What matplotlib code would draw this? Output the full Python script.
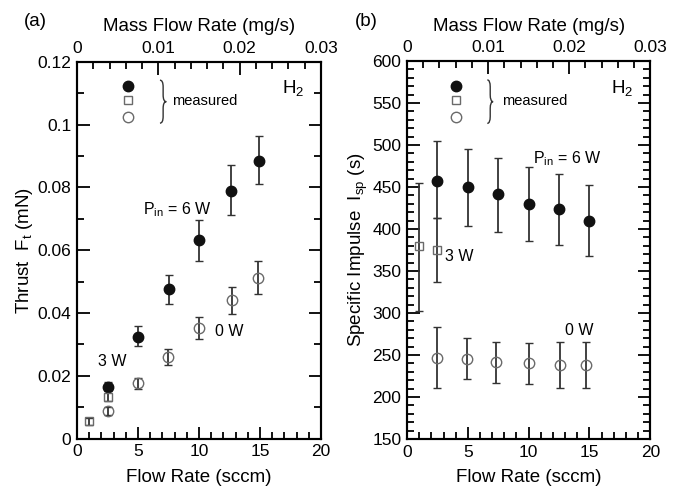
import matplotlib
matplotlib.use("Agg")
from matplotlib import pyplot
from matplotlib.path import Path
from matplotlib.patches import PathPatch
from matplotlib.ticker import MultipleLocator, FuncFormatter

pyplot.rcParams["font.family"] = ["Liberation Sans", "DejaVu Sans"]
pyplot.rcParams["mathtext.default"] = "regular"

# ---- (a) thrust vs flow rate ----
flow_6w_a = [2.5, 5, 7.5, 10, 12.6, 14.9]
thrust_6w = [0.0166, 0.0325, 0.0475, 0.0632, 0.0789, 0.0885]
thrust_6w_lo = [0.0155, 0.0295, 0.0430, 0.0566, 0.0713, 0.0810]
thrust_6w_hi = [0.0180, 0.0360, 0.0522, 0.0696, 0.0870, 0.0962]

flow_3w = [1.0, 2.5]
thrust_3w = [0.0056, 0.0134]
thrust_3w_lo = [0.0044, 0.0119]
thrust_3w_hi = [0.0066, 0.0151]

flow_0w_a = [2.5, 5, 7.45, 10, 12.7, 14.8]
thrust_0w = [0.0088, 0.0176, 0.0260, 0.0351, 0.0441, 0.0512]
thrust_0w_lo = [0.0077, 0.0158, 0.0234, 0.0317, 0.0396, 0.0462]
thrust_0w_hi = [0.0101, 0.0192, 0.0287, 0.0386, 0.0484, 0.0565]

# ---- (b) specific impulse vs flow rate ----
flow_6w_b = [2.5, 5, 7.5, 10, 12.5, 15]
isp_6w = [457, 450, 442, 430, 424, 410]
isp_6w_lo = [413, 403, 397, 386, 381, 368]
isp_6w_hi = [505, 495, 485, 474, 465, 452]

isp_3w = [380, 375]
isp_3w_lo = [302, 337]
isp_3w_hi = [455, 413]

flow_0w_b = [2.45, 4.9, 7.3, 10, 12.6, 14.7]
isp_0w = [246, 245, 242, 240, 238, 238]
isp_0w_lo = [211, 221, 217, 215, 211, 211]
isp_0w_hi = [283, 270, 266, 264, 266, 266]

BLACK = "#111111"
GREY = "#6a6a6a"
BAR = "#333333"
TICK_SIZE = 12.5

number = FuncFormatter(lambda v, p: "{:g}".format(round(v, 6)))


def err(vals, lo, hi):
    return [[v - l for v, l in zip(vals, lo)], [h - v for v, h in zip(vals, hi)]]


def brace(axis, x0, x1, y0, y1, d=0.018):
    # thin curly brace pointing right, axes fraction coords
    ym = (y0 + y1) / 2
    xm = (x0 + x1) / 2
    verts = [
        (x0, y1), (xm, y1), (xm, y1 - d),
        (xm, ym + d), (xm, ym), (x1, ym),
        (xm, ym), (xm, ym - d),
        (xm, y0 + d), (xm, y0), (x0, y0),
    ]
    codes = [Path.MOVETO, Path.CURVE3, Path.CURVE3,
             Path.LINETO, Path.CURVE3, Path.CURVE3,
             Path.CURVE3, Path.CURVE3,
             Path.LINETO, Path.CURVE3, Path.CURVE3]
    axis.add_patch(PathPatch(Path(verts, codes), transform=axis.transAxes,
                             fill=False, lw=1.0, edgecolor=BAR))


def style(axis, ymaj, ymin):
    axis.xaxis.set_major_locator(MultipleLocator(5))
    axis.xaxis.set_minor_locator(MultipleLocator(1))
    axis.yaxis.set_major_locator(MultipleLocator(ymaj))
    axis.yaxis.set_minor_locator(MultipleLocator(ymin))
    axis.yaxis.set_major_formatter(number)
    axis.tick_params(which="both", direction="in", top=False, right=True,
                     labelsize=TICK_SIZE, width=1.3)
    axis.tick_params(which="major", length=9, pad=4)
    axis.tick_params(which="minor", length=5)
    for s in axis.spines.values():
        s.set_linewidth(1.5)
    axis.set_xlim(0, 20)
    axis.set_xlabel("Flow Rate (sccm)", fontsize=13.5, labelpad=7)
    top = axis.twiny()
    top.set_xlim(0, 0.03)
    top.xaxis.set_major_locator(MultipleLocator(0.01))
    top.xaxis.set_minor_locator(MultipleLocator(0.002))
    top.xaxis.set_major_formatter(number)
    top.tick_params(which="both", direction="in", labelsize=TICK_SIZE, width=1.3)
    top.tick_params(which="major", length=9, pad=4)
    top.tick_params(which="minor", length=5)
    top.set_xlabel("Mass Flow Rate (mg/s)", fontsize=13.5, labelpad=7)
    for s in top.spines.values():
        s.set_linewidth(1.5)


def points(axis, x, y, lo, hi, marker, ms, face, edge):
    axis.errorbar(x, y, yerr=err(y, lo, hi), fmt=marker, ms=ms, mfc=face, mec=edge,
                  mew=1.0, ecolor=BAR, elinewidth=1.3, capsize=3.2, capthick=1.3, zorder=3)


figure = pyplot.figure(figsize=(6.82, 4.92), dpi=100)
figure.set_facecolor("white")

# panel (a)
ax1 = figure.add_axes([0.1129, 0.1083, 0.3578, 0.7663])
points(ax1, flow_6w_a, thrust_6w, thrust_6w_lo, thrust_6w_hi, "o", 7.5, BLACK, BLACK)
points(ax1, flow_3w, thrust_3w, thrust_3w_lo, thrust_3w_hi, "s", 5.5, "none", GREY)
points(ax1, flow_0w_a, thrust_0w, thrust_0w_lo, thrust_0w_hi, "o", 7.5, "none", GREY)
ax1.set_ylim(0, 0.12)
ax1.set_ylabel("Thrust  F$_t$ (mN)", fontsize=13.5, labelpad=1.5)
ax1.plot([4.15], [0.1123], "o", ms=7.5, color=BLACK)
ax1.plot([4.15], [0.1078], "s", ms=5.5, mfc="none", mec=GREY, mew=1.0)
ax1.plot([4.15], [0.1024], "o", ms=7.5, mfc="none", mec=GREY, mew=1.0)
brace(ax1, 0.340, 0.366, 0.837, 0.951)
ax1.text(7.8, 0.1075, "measured", fontsize=10.5, va="center", ha="left")
ax1.text(17.7, 0.1115, "H$_2$", fontsize=13.5, ha="center", va="center")
ax1.text(5.4, 0.0728, "P$_{in}$ = 6 W", fontsize=11.5, ha="left", va="center")
ax1.text(2.85, 0.0245, "3 W", fontsize=11.5, ha="center", va="center")
ax1.text(12.5, 0.034, "0 W", fontsize=11.5, ha="center", va="center")
style(ax1, 0.02, 0.01)

# panel (b)
ax2 = figure.add_axes([0.5968, 0.1077, 0.3567, 0.7683])
points(ax2, flow_6w_b, isp_6w, isp_6w_lo, isp_6w_hi, "o", 7.5, BLACK, BLACK)
points(ax2, flow_3w, isp_3w, isp_3w_lo, isp_3w_hi, "s", 5.5, "none", GREY)
points(ax2, flow_0w_b, isp_0w, isp_0w_lo, isp_0w_hi, "o", 7.5, "none", GREY)
ax2.set_ylim(150, 600)
ax2.set_ylabel("Specific Impulse  I$_{sp}$ (s)", fontsize=13.5, labelpad=2)
ax2.plot([4.0], [570.5], "o", ms=7.5, color=BLACK)
ax2.plot([4.0], [553.5], "s", ms=5.5, mfc="none", mec=GREY, mew=1.0)
ax2.plot([4.0], [533.0], "o", ms=7.5, mfc="none", mec=GREY, mew=1.0)
brace(ax2, 0.330, 0.354, 0.835, 0.950)
ax2.text(7.8, 552, "measured", fontsize=10.5, va="center", ha="left")
ax2.text(17.7, 568, "H$_2$", fontsize=13.5, ha="center", va="center")
ax2.text(13.2, 484, "P$_{in}$ = 6 W", fontsize=11.5, ha="center", va="center")
ax2.text(4.3, 367, "3 W", fontsize=11.5, ha="center", va="center")
ax2.text(14.2, 279, "0 W", fontsize=11.5, ha="center", va="center")
style(ax2, 50, 10)

figure.text(35 / 682, 1 - 21.7 / 492, "(a)", fontsize=13.5, ha="center", va="center")
figure.text(366 / 682, 1 - 21.7 / 492, "(b)", fontsize=13.5, ha="center", va="center")

figure.savefig("out.png", dpi=100)
